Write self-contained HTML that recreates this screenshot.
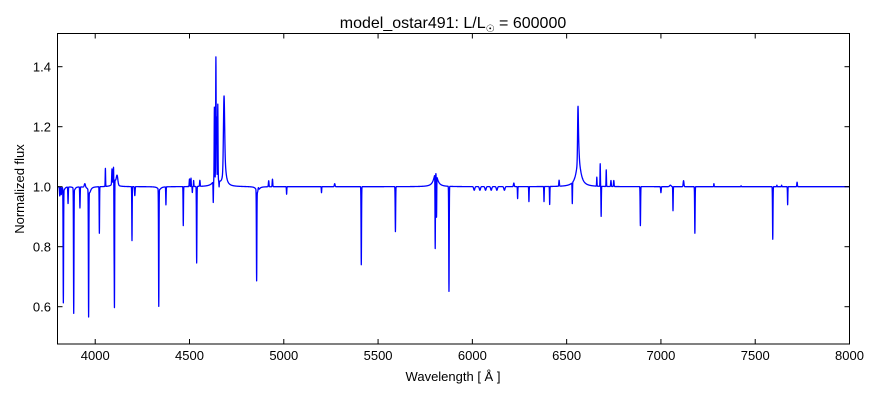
<!DOCTYPE html>
<html><head><meta charset="utf-8"><style>
body{margin:0;background:#fff;}
svg text{font-family:"Liberation Sans","DejaVu Sans",sans-serif;fill:#000;}
</style></head><body>
<svg id="s" width="880" height="400" viewBox="0 0 880 400" xmlns="http://www.w3.org/2000/svg">
<rect width="880" height="400" fill="#fff"/>
<g id="plot"></g>
<rect x="57.5" y="33.5" width="792" height="310.5" fill="none" stroke="#000" stroke-width="1"/>
<g id="ticks" stroke="#000" stroke-width="1"></g>
<g id="labels" font-size="13"></g>
<text x="453" y="28" font-size="16" text-anchor="middle">model_ostar491: L/L<tspan font-size="10" dy="4">☉</tspan><tspan dy="-4"> = 600000</tspan></text>
<text x="453" y="381" font-size="13" text-anchor="middle">Wavelength [ Å ]</text>
<text x="24" y="189" font-size="13" text-anchor="middle" transform="rotate(-90 24 189)">Normalized flux</text>
</svg>
<script>
function X(w){return 57.5+(w-3800)/4200*792;}
function Y(f){return 186.7-(f-1)*300;}
var NS="http://www.w3.org/2000/svg";
var L=[[3812,-0.03,1.5],[3820,-0.025,1.5],[3831,-0.38,1.2],[3856,-0.055,1.2],[3886,-0.415,1.2],[3919,-0.07,1.2],[3965,-0.42,1.2],[3945,0.012,3],
[4022,-0.155,1],[4054,0.06,1],[4089,0.05,1.5],[4097,0.045,1],[4100,-0.18,0.8],[4102,-0.42,1],[4116,0.03,4],[4195,-0.18,1],[4210,-0.03,1.5],
[4337,-0.39,1.2],[4375,-0.06,1],[4467,-0.13,1],[4500,0.025,1.5],[4508,0.028,1],[4515,-0.02,1],[4522,0.02,1],[4538,-0.255,1.2],[4555,0.02,1.5],
[4626,-0.07,1],[4632,0.24,1.2],[4640,0.4,1.2],[4644,0.2,1],[4650,0.25,1.2],[4657,-0.02,1],[4683,0.22,3],
[4856,-0.3,1.2],[4865,0.012,2],[4920,0.02,1.5],[4940,0.025,1.5],[5015,-0.025,1],[5200,-0.02,1],[5270,0.01,2],[5411,-0.26,1.2],[5592,-0.15,1.2],
[5803,-0.25,1],[5810,-0.14,1],[5876,-0.35,1.2],[6010,-0.012,3],[6040,-0.012,3],[6070,-0.012,3],[6100,-0.012,3],[6130,-0.012,3],[6170,-0.012,3],
[6220,0.012,2],[6240,-0.04,1],[6300,-0.05,1],[6380,-0.05,1],[6410,-0.06,1],[6460,0.02,1.5],[6530,-0.07,1],[6560,0.15,2],[6563,0.05,3],
[6660,0.03,1],[6678,0.075,1],[6683,-0.1,1],[6710,0.055,1],[6735,0.02,1.5],[6750,0.02,1.5],[6891,-0.13,1.2],[7000,-0.02,1.5],[7050,0.005,4],[7064,-0.08,1],
[7120,0.02,2],[7180,-0.155,1.2],[7281,0.01,1],[7425,0.003,1],[7593,-0.175,1.2],[7615,0.005,1],[7640,0.005,1],[7672,-0.06,1],[7722,0.015,1.5]];
var B=[[3970,-0.02,8],[4102,0.025,10],[4340,-0.01,10],[4640,0.03,15],[4686,0.09,8],[4861,-0.02,8],[5805,0.045,12],[6563,0.09,14],[3835,-0.01,6],[3890,-0.01,6]];
var d="";
for(var w=3800;w<=8000;w+=0.5){
 var f=1;
 for(var i=0;i<L.length;i++){var z=(w-L[i][0])/L[i][2];if(Math.abs(z)<6)f+=L[i][1]*Math.exp(-0.5*z*z);}
 for(var j=0;j<B.length;j++){var z2=(w-B[j][0])/B[j][2];f+=B[j][1]/(1+z2*z2);}
 d+=(d?"L":"M")+X(w).toFixed(2)+","+Y(f).toFixed(2);
}
var p=document.createElementNS(NS,"path");p.setAttribute("d",d);p.setAttribute("fill","none");p.setAttribute("stroke","#0000ff");p.setAttribute("stroke-width","1.3");p.setAttribute("stroke-linejoin","round");
document.getElementById("plot").appendChild(p);
var t=document.getElementById("ticks"),lb=document.getElementById("labels");
function line(x1,y1,x2,y2){var l=document.createElementNS(NS,"line");l.setAttribute("x1",x1);l.setAttribute("y1",y1);l.setAttribute("x2",x2);l.setAttribute("y2",y2);t.appendChild(l);}
function txt(x,y,s,a){var e=document.createElementNS(NS,"text");e.setAttribute("x",x);e.setAttribute("y",y);e.setAttribute("text-anchor",a);e.textContent=s;lb.appendChild(e);}
for(var w2=4000;w2<=8000;w2+=500){var x=X(w2);line(x,344,x,339);line(x,33.5,x,38.5);txt(x,360,String(w2),"middle");}
[0.6,0.8,1.0,1.2,1.4].forEach(function(v){var y=Y(v);line(57.5,y,62.5,y);line(849.5,y,844.5,y);txt(51,y+5,v.toFixed(1),"end");});
</script>
</body></html>
